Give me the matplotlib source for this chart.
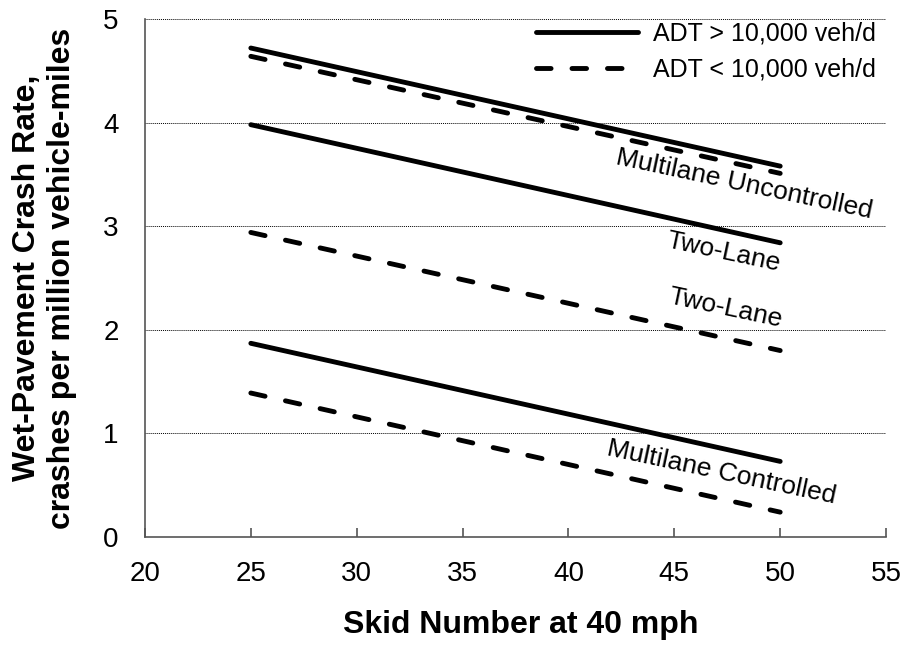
import matplotlib.pyplot as plt

plt.rcParams['font.family'] = ['Liberation Sans', 'DejaVu Sans']

# Skid number endpoints
skid = [25, 50]

# Wet-pavement crash rates (crashes per million vehicle-miles)
mu_high = [4.72, 3.58]   # Multilane Uncontrolled, ADT > 10,000
mu_low = [4.64, 3.51]    # Multilane Uncontrolled, ADT < 10,000
tl_high = [3.98, 2.84]   # Two-Lane, ADT > 10,000
tl_low = [2.94, 1.80]    # Two-Lane, ADT < 10,000
mc_high = [1.87, 0.73]   # Multilane Controlled, ADT > 10,000
mc_low = [1.39, 0.24]    # Multilane Controlled, ADT < 10,000

lw = 3.5
dash = (0, (3.0, 4.3))
solid_kw = dict(color='black', lw=lw, solid_capstyle='round')
dash_kw = dict(color='black', lw=lw, linestyle=dash, dash_capstyle='round')

fig = plt.figure(figsize=(9.06, 6.45), dpi=100)
ax = fig.add_axes([0.160, 0.1674, 0.818, 0.8031])

ax.plot(skid, mu_high, label='ADT > 10,000 veh/d', **solid_kw)
ax.plot(skid, mu_low, label='ADT < 10,000 veh/d', **dash_kw)
ax.plot(skid, tl_high, **solid_kw)
ax.plot(skid, tl_low, **dash_kw)
ax.plot(skid, mc_high, **solid_kw)
ax.plot(skid, mc_low, **dash_kw)

# rotated curve labels
ax.text(48.3, 3.40, 'Multilane Uncontrolled', rotation=-12, ha='center', va='center', fontsize=19)
ax.text(47.3, 2.75, 'Two-Lane', rotation=-12, ha='center', va='center', fontsize=19)
ax.text(47.4, 2.21, 'Two-Lane', rotation=-12, ha='center', va='center', fontsize=19)
ax.text(47.25, 0.62, 'Multilane Controlled', rotation=-12, ha='center', va='center', fontsize=19)

ax.set_xlim(20, 55)
ax.set_ylim(0, 5)
ax.set_xticks(range(20, 56, 5))
ax.set_yticks(range(0, 6))
ax.yaxis.grid(True, linestyle=(0, (1, 1)), color='black', lw=0.7)
ax.set_axisbelow(True)

for s in ['top', 'right']:
    ax.spines[s].set_visible(False)
for s in ['left', 'bottom']:
    ax.spines[s].set_color('#555555')
    ax.spines[s].set_linewidth(1.2)

ax.tick_params(axis='both', direction='in', labelsize=20, color='#555555')
ax.tick_params(axis='x', length=6.5, width=1.2, pad=17)
ax.tick_params(axis='y', length=0, pad=19)

ax.set_xlabel('Skid Number at 40 mph', fontsize=23, fontweight='bold')
ax.xaxis.label.set_va('center')
ax.xaxis.set_label_coords(0.507, -0.17)
ax.set_ylabel('Wet-Pavement Crash Rate,\ncrashes per million vehicle-miles', fontsize=23,
              fontweight='bold')
ax.yaxis.label.set_va('center')
ax.yaxis.set_label_coords(-0.1356, 0.50)

ax.legend(loc='upper right', bbox_to_anchor=(1.0, 1.015), frameon=False, fontsize=18,
          handlelength=4.1, handletextpad=0.6, labelspacing=0.5, borderaxespad=0)

fig.savefig('out.png', dpi=100)
